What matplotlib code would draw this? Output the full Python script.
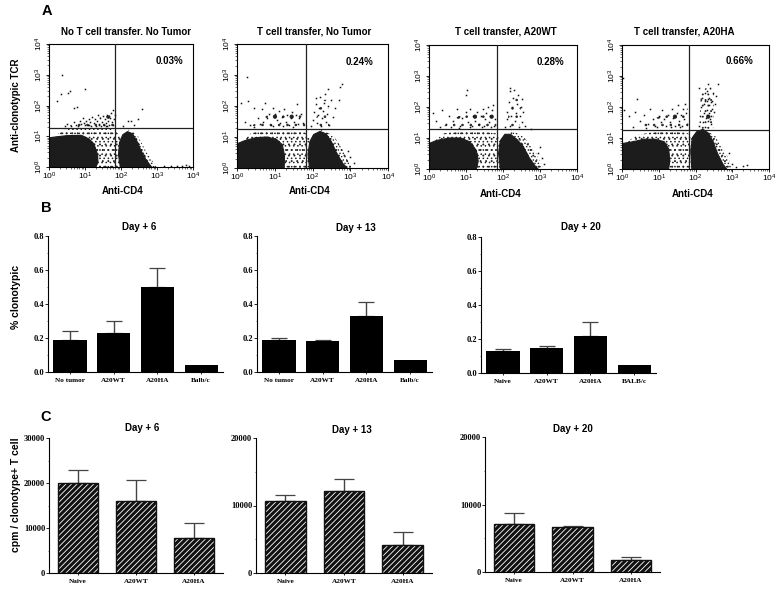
import numpy as np
import matplotlib
matplotlib.use('Agg')
import matplotlib.pyplot as plt
from matplotlib.patches import Polygon
from matplotlib.ticker import MultipleLocator, LogLocator, NullFormatter

W, H = 782, 597
SANS = 'Liberation Sans'
SERIF = 'Liberation Serif'

plt.rcParams['hatch.linewidth'] = 0.6

# panel A, everything in decades (log10 of fluorescence)
flow_titles = ['No T cell transfer. No Tumor', 'T cell transfer, No Tumor', 'T cell transfer, A20WT', 'T cell transfer, A20HA']
flow_pct = ['0.03%', '0.24%', '0.28%', '0.66%']
gate_x = [1.83, 1.83, 1.84, 1.82]
gate_y = [1.27, 1.26, 1.29, 1.26]

left_blobs = [
    [(0, 0), (0, .95), (.2, .98), (.5, 1.02), (.9, 1.03), (1.1, .92), (1.25, .75), (1.35, .4), (1.36, .15), (1.3, 0)],
    [(0, 0), (0, .78), (.2, .88), (.5, .98), (.8, 1.0), (1.05, .92), (1.2, .75), (1.26, .4), (1.25, 0)],
    [(0, 0), (0, .82), (.2, .92), (.55, 1.0), (.85, 1.0), (1.1, .88), (1.28, .6), (1.33, .25), (1.28, 0)],
    [(0, 0), (0, .82), (.3, .88), (.6, .96), (.9, .96), (1.15, .88), (1.27, .65), (1.3, .25), (1.27, 0)],
]
right_blobs = [
    [(1.98, 0), (1.93, .4), (1.96, .8), (2.05, 1.05), (2.18, 1.15), (2.32, 1.08), (2.45, .82), (2.55, .55), (2.7, .22), (2.85, 0)],
    [(1.92, 0), (1.88, .45), (1.93, .85), (2.03, 1.08), (2.2, 1.18), (2.36, 1.1), (2.5, .85), (2.64, .48), (2.8, .15), (2.92, 0)],
    [(1.93, 0), (1.88, .5), (1.93, .92), (2.05, 1.12), (2.2, 1.12), (2.38, .95), (2.55, .72), (2.7, .38), (2.88, .08), (2.95, 0)],
    [(1.9, 0), (1.87, .6), (1.92, 1.02), (2.03, 1.2), (2.2, 1.28), (2.36, 1.15), (2.48, .88), (2.6, .5), (2.75, .15), (2.85, 0)],
]
# loose cells between and around the two populations, drawn as stipple
gap_zones = [
    [(0, .9), (.5, 1.25), (1.2, 1.25), (1.75, 1.25), (2.0, 1.0), (2.0, 0), (1.2, 0), (1.2, .85)],
    [(0, .7), (.4, 1.15), (1.2, 1.25), (1.8, 1.15), (1.95, .9), (1.95, 0), (1.1, 0), (1.1, .85)],
    [(0, .75), (.4, 1.15), (1.2, 1.25), (1.8, 1.15), (1.95, .9), (1.95, 0), (1.15, 0), (1.15, .85)],
    [(0, .75), (.4, 1.1), (1.2, 1.25), (1.8, 1.15), (1.95, .9), (1.95, 0), (1.15, 0), (1.15, .85)],
]
edge_zones = [
    [(2.2, 1.22), (2.45, 1.05), (2.7, .5), (2.98, 0), (2.6, 0), (2.3, .5)],
    [(2.2, 1.25), (2.55, 1.05), (2.85, .5), (3.05, 0), (2.7, 0), (2.3, .5)],
    [(2.2, 1.25), (2.55, 1.05), (2.9, .5), (3.1, 0), (2.8, 0), (2.3, .5)],
    [(2.2, 1.3), (2.55, 1.05), (2.85, .45), (3.02, 0), (2.7, 0), (2.3, .5)],
]
band_zones = [
    [(.45, 1.29), (1.82, 1.29), (1.82, 1.72), (1.4, 1.6), (.9, 1.48)],
    [(.3, 1.29), (1.82, 1.29), (1.82, 1.8), (1.3, 1.85), (.8, 1.7)],
    [(.3, 1.32), (1.82, 1.32), (1.82, 1.9), (1.3, 1.85), (.8, 1.7)],
    [(.3, 1.29), (1.8, 1.29), (1.8, 1.95), (1.3, 1.8), (.8, 1.6)],
]
spike_zones = [
    [(2.0, 1.29), (2.0, 1.29), (2.0, 1.29)],
    [(2.05, 1.28), (2.45, 1.28), (2.4, 2.2), (2.2, 2.2)],
    [(2.08, 1.31), (2.45, 1.31), (2.5, 2.3), (2.25, 2.4)],
    [(2.1, 1.28), (2.48, 1.28), (2.5, 2.5), (2.3, 2.65), (2.15, 2.4)],
]

dots = [
    [(.37, 2.98), (.34, 2.39), (.53, 2.41), (.59, 2.46), (.99, 2.55), (.22, 2.14), (.69, 1.92), (.78, 1.95), (2.59, 1.89),
     (2.29, 1.49), (2.47, 1.57), (.45, 1.32), (.5, 1.4), (.6, 1.32), (.7, 1.45), (.75, 1.38), (.8, 1.33), (.85, 1.5), (.9, 1.4),
     (.95, 1.6), (1.0, 1.35), (1.02, 1.48), (1.08, 1.38), (1.1, 1.55), (1.15, 1.45), (1.18, 1.34), (1.2, 1.62), (1.25, 1.42),
     (1.28, 1.55), (1.3, 1.33), (1.33, 1.5), (1.36, 1.68), (1.4, 1.4), (1.42, 1.58), (1.45, 1.33), (1.48, 1.47), (1.5, 1.65),
     (1.52, 1.38), (1.55, 1.55), (1.58, 1.42), (1.6, 1.7), (1.62, 1.33), (1.65, 1.5), (1.68, 1.38), (1.7, 1.6), (1.72, 1.75),
     (1.75, 1.45), (1.77, 1.35), (1.78, 1.85), (1.8, 1.55), (1.82, 1.7), (1.12, 1.36), (1.38, 1.35), (1.57, 1.34), (.98, 1.42),
     (2.05, 1.32), (2.2, 1.5), (2.35, 1.35), (3.2, .04), (3.4, .04), (3.55, .03), (3.7, .04), (3.8, .05), (3.9, .04)],
    [(.27, 2.92), (2.77, 2.7), (2.74, 2.6), (.1, 2.1), (.3, 2.15), (.45, 1.95), (.65, 1.9), (.75, 2.1), (.85, 1.75), (.95, 1.92),
     (.55, 1.6), (.7, 1.5), (.8, 1.62), (.9, 1.4), (1.0, 1.75), (1.05, 1.55), (1.1, 1.85), (1.15, 1.45), (1.2, 1.65), (1.25, 1.9),
     (1.3, 1.5), (1.33, 1.72), (1.38, 1.4), (1.42, 1.62), (1.46, 1.8), (1.5, 1.5), (1.55, 1.7), (1.58, 2.05), (1.62, 1.42),
     (1.65, 1.6), (1.7, 1.75), (1.75, 1.45), (.35, 1.4), (.45, 1.33), (.6, 1.42), (.2, 1.5), (.95, 1.35), (1.22, 1.35), (1.48, 1.33),
     (1.95, 1.35), (2.0, 1.55), (2.05, 1.8), (2.08, 2.05), (2.1, 2.25), (2.12, 1.45), (2.15, 1.7), (2.18, 1.95), (2.2, 2.3),
     (2.22, 1.35), (2.25, 1.6), (2.28, 1.85), (2.3, 2.1), (2.32, 2.4), (2.35, 1.5), (2.38, 1.75), (2.4, 2.0), (2.42, 2.55),
     (2.45, 1.4), (2.5, 2.2), (2.55, 1.65), (2.6, 1.95), (2.7, 2.2), (3.0, .35), (2.95, .55), (3.1, .15)],
    [(1.0, 2.4), (1.02, 2.55), (.1, 1.8), (.2, 1.55), (.35, 1.9), (.45, 1.45), (.55, 1.7), (.65, 1.55), (.75, 1.95), (.85, 1.4),
     (.9, 1.65), (1.0, 1.85), (1.05, 1.5), (1.1, 1.95), (1.15, 1.4), (1.2, 1.7), (1.25, 1.55), (1.3, 1.85), (1.35, 1.45),
     (1.4, 1.7), (1.45, 1.95), (1.5, 1.4), (1.52, 1.6), (1.55, 1.8), (1.6, 2.0), (1.62, 1.5), (1.65, 1.7), (1.7, 1.9), (1.72, 2.05),
     (1.75, 1.4), (1.78, 1.6), (.3, 1.35), (.6, 1.35), (.8, 1.33), (1.12, 1.34), (1.42, 1.35), (1.68, 1.36),
     (2.05, 1.35), (2.1, 1.6), (2.12, 1.85), (2.15, 2.15), (2.18, 2.5), (2.2, 1.4), (2.22, 1.7), (2.25, 2.0), (2.28, 2.3), (2.3, 2.55),
     (2.32, 1.55), (2.35, 1.8), (2.38, 2.1), (2.4, 2.4), (2.42, 1.35), (2.45, 1.7), (2.48, 2.0), (2.5, 2.25), (2.52, 1.5), (2.55, 1.85),
     (2.6, 1.4), (2.75, 1.3), (3.0, .7), (2.95, .5), (3.05, .35), (3.1, .15), (2.2, 2.62)],
    [(.02, 2.95), (.4, 2.25), (.05, 1.9), (.2, 1.7), (.35, 1.85), (.5, 1.55), (.6, 1.75), (.7, 1.45), (.75, 1.95), (.85, 1.6),
     (.9, 1.4), (1.0, 1.7), (1.05, 1.5), (1.1, 1.9), (1.15, 1.6), (1.2, 1.4), (1.25, 1.75), (1.3, 1.5), (1.35, 1.95), (1.4, 1.65),
     (1.45, 1.4), (1.5, 1.8), (1.52, 2.05), (1.55, 1.55), (1.6, 1.75), (1.62, 1.4), (1.65, 1.95), (1.7, 1.6), (1.72, 2.1), (1.75, 1.8),
     (1.78, 1.45), (.3, 1.35), (.65, 1.33), (.95, 1.35), (1.32, 1.34), (1.58, 1.35),
     (2.1, 1.4), (2.12, 1.7), (2.15, 2.0), (2.18, 2.3), (2.2, 1.5), (2.22, 1.8), (2.24, 2.1), (2.25, 2.45), (2.27, 1.35),
     (2.28, 1.65), (2.3, 1.9), (2.3, 2.2), (2.32, 2.5), (2.33, 2.75), (2.35, 1.55), (2.36, 1.8), (2.37, 2.05), (2.38, 2.3), (2.4, 2.6),
     (2.42, 1.45), (2.43, 1.7), (2.44, 1.95), (2.45, 2.2), (2.47, 2.45), (2.5, 1.85), (2.52, 2.1), (2.55, 2.35), (2.6, 2.75), (2.1, 2.6),
     (2.27, 2.2), (2.34, 2.25), (2.41, 2.15), (2.31, 1.75), (2.39, 1.6), (2.9, .5), (3.0, .15), (3.1, .05), (3.3, .1), (3.4, .12)],
]

# panel B
b_titles = ['Day + 6', 'Day + 13', 'Day + 20']
b_cats = [['No tumor', 'A20WT', 'A20HA', 'Balb/c'], ['No tumor', 'A20WT', 'A20HA', 'Balb/c'], ['Naive', 'A20WT', 'A20HA', 'BALB/c']]
b_vals = [[.19, .23, .50, .04], [.19, .18, .33, .07], [.13, .15, .22, .05]]
b_tops = [[.24, .30, .61, .04], [.20, .19, .41, .07], [.14, .16, .30, .05]]

# panel C
c_titles = ['Day + 6', 'Day + 13', 'Day + 20']
c_cats = ['Naive', 'A20WT', 'A20HA']
c_vals = [[20000, 16100, 7800], [10600, 12200, 4150], [7100, 6600, 1800]]
c_tops = [[22800, 20600, 11100], [11500, 13900, 6100], [8700, 6800, 2250]]
c_ymax = [30000, 20000, 20000]


def px_axes(fig, x0, y0, x1, y1):
    # box in image pixels, y from top
    return fig.add_axes([x0 / W, 1 - y1 / H, (x1 - x0) / W, (y1 - y0) / H])


def label(fig, x, y, s, size=7, weight='bold', family=SANS, **kw):
    fig.text(x / W, 1 - y / H, s, fontsize=size, fontweight=weight, family=family, ha='center', va='center', **kw)


def stipple(ax, zone, hatches, col='#222222'):
    # two hatch periods on top of each other break up the regular grid
    pts = [(10 ** a, 10 ** b) for a, b in zone]
    for h in hatches:
        ax.add_patch(Polygon(pts, facecolor='none', edgecolor=col, hatch=h, lw=0, zorder=1))


def draw_flow(ax, i):
    ax.set_xscale('log')
    ax.set_yscale('log')
    ax.set_xlim(1, 1e4)
    ax.set_ylim(1, 1e4)
    stipple(ax, gap_zones[i], ['....', '...'])
    stipple(ax, edge_zones[i], ['.....', '...'])
    stipple(ax, band_zones[i], ['..', '.'])
    stipple(ax, spike_zones[i], ['...', '.'] if i == 3 else ['..'])
    for blob in (left_blobs[i], right_blobs[i]):
        pts = [(10 ** a, 10 ** b) for a, b in blob]
        ax.add_patch(Polygon(pts, facecolor='#1c1c1c', edgecolor='#1c1c1c', lw=0.8, zorder=2))
    dx = [10 ** p[0] for p in dots[i]]
    dy = [10 ** p[1] for p in dots[i]]
    ax.plot(dx, dy, ls='', marker='s', ms=1.1, mew=0, color='#111111', zorder=3)
    ax.axvline(10 ** gate_x[i], color='#222222', lw=0.9, zorder=4)
    ax.axhline(10 ** gate_y[i], color='#222222', lw=0.9, zorder=4)
    decades = [1, 10, 100, 1000, 10000]
    names = [r'$\mathregular{10^{%d}}$' % k for k in range(5)]
    ax.set_xticks(decades, names)
    ax.set_yticks(decades, names)
    for axis in (ax.xaxis, ax.yaxis):
        axis.set_minor_locator(LogLocator(base=10, subs=np.arange(2, 10), numticks=10))
        axis.set_minor_formatter(NullFormatter())
    ax.tick_params(which='major', length=2.5, width=0.6, labelsize=6, pad=0.5)
    ax.tick_params(which='minor', length=1.2, width=0.4)
    plt.setp(ax.get_yticklabels(), rotation=90, va='center', family=SANS)
    plt.setp(ax.get_xticklabels(), family=SANS)
    for s in ax.spines.values():
        s.set_linewidth(0.8)


def draw_bars(ax, cats, vals, tops, ymax, hatched=False):
    xs = np.arange(len(cats))
    width = .76 if len(cats) == 4 else .69
    if hatched:
        ax.bar(xs, vals, width, color='#111111', edgecolor='white', hatch='//////', lw=0, zorder=2)
        ax.bar(xs, vals, width, fill=False, edgecolor='#111111', lw=1, zorder=3)
    else:
        ax.bar(xs, vals, width, color='black', zorder=2)
    errs = np.array(tops) - np.array(vals)
    shown = errs > 0
    ax.errorbar(xs[shown], np.array(vals)[shown], yerr=[np.zeros(shown.sum()), errs[shown]], fmt='none',
                ecolor='#444444', elinewidth=1, capsize=7 if hatched else 6, capthick=0.9, zorder=1)
    ax.set_xlim(-.5, len(cats) - .5)
    ax.set_ylim(0, ymax)
    ax.set_xticks(xs, cats)
    for s in ('top', 'right'):
        ax.spines[s].set_visible(False)
    ax.spines['left'].set_linewidth(0.8)
    ax.spines['bottom'].set_linewidth(0.8)
    ax.tick_params(axis='x', length=1.5, width=0.6, pad=2.5)
    ax.tick_params(axis='y', length=2, width=0.6, pad=0.8)
    ax.tick_params(axis='y', which='minor', length=1, width=0.4)
    for t in ax.get_xticklabels():
        t.set(family=SERIF, fontweight='bold', fontsize=5.2)


fig = plt.figure(figsize=(W / 100, H / 100), dpi=100, facecolor='white')

flow_boxes = [(49, 44, 193, 167), (237, 44, 388, 168), (429, 45, 577, 169), (622, 45, 769, 169)]
flow_title_xy = [(126, 32), (314, 32), (506, 31), (684, 31)]
flow_pct_xy = [(169, 61), (359, 62), (550, 62), (740, 61)]
flow_cd4_xy = [(123, 191), (310, 191), (501, 194), (693, 194)]
for i, box in enumerate(flow_boxes):
    ax = px_axes(fig, *box)
    draw_flow(ax, i)
    label(fig, *flow_title_xy[i], flow_titles[i])
    label(fig, *flow_pct_xy[i], flow_pct[i])
    label(fig, *flow_cd4_xy[i], 'Anti-CD4')

b_boxes = [(48, 236, 223, 372), (257, 236, 432, 372), (481, 237, 656, 373)]
b_title_xy = [(139, 227), (356, 228), (581, 227)]
for i, box in enumerate(b_boxes):
    ax = px_axes(fig, *box)
    draw_bars(ax, b_cats[i], b_vals[i], b_tops[i], 0.8)
    ax.set_yticks([0, .2, .4, .6, .8], ['0.0', '0.2', '0.4', '0.6', '0.8'])
    ax.yaxis.set_minor_locator(MultipleLocator(.1))
    for t in ax.get_yticklabels():
        t.set(family=SERIF, fontweight='bold', fontsize=6)
    label(fig, *b_title_xy[i], b_titles[i])

c_boxes = [(49, 438, 223, 573), (256, 438, 432, 573), (485, 437, 660, 572)]
c_title_xy = [(142, 428), (352, 430), (573, 429)]
for i, box in enumerate(c_boxes):
    ax = px_axes(fig, *box)
    draw_bars(ax, c_cats, c_vals[i], c_tops[i], c_ymax[i], hatched=True)
    step = 10000
    ax.set_yticks(range(0, c_ymax[i] + 1, step), [str(v) for v in range(0, c_ymax[i] + 1, step)])
    ax.yaxis.set_minor_locator(MultipleLocator(step / 2))
    for t in ax.get_yticklabels():
        t.set(family=SERIF, fontweight='bold', fontsize=6)
    label(fig, *c_title_xy[i], c_titles[i])

label(fig, 47, 11, 'A', size=10.5)
label(fig, 46, 208, 'B', size=10.5)
label(fig, 46, 417, 'C', size=10.5)
label(fig, 16, 105, 'Anti-clonotypic TCR', rotation=90)
label(fig, 16, 297, '% clonotypic', size=7.5, rotation=90)
label(fig, 16, 495, 'cpm / clonotype+ T cell', size=7.5, rotation=90)

fig.savefig('out.png', dpi=100)
